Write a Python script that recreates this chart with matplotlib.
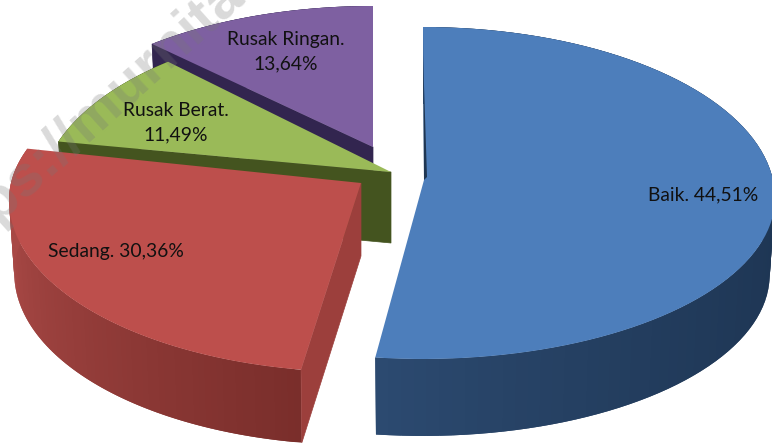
import numpy as np
import matplotlib
matplotlib.use("Agg")
import matplotlib.pyplot as plt
from matplotlib.colors import to_rgb

# slices as they are drawn (share of the full turn),
# the printed percentages do not match the drawn sizes in the original
categories = ["Baik.", "Sedang.", "Rusak Berat.", "Rusak Ringan."]
drawn_share = [52.36, 27.84, 8.89, 10.91]
printed_pct = ["44,51%", "30,36%", "11,49%", "13,64%"]

top_colors = ["#4d7ebb", "#bd4f4c", "#9aba58", "#7e60a1"]
wall_colors = ["#1f3652", "#9c3f3c", "#44541f", "#32254f"]
# rim colours at start and end of the slice
rim_colors = [("#1c3350", "#2c4a70"), ("#7a2e2b", "#a84845"),
              ("#44541f", "#44541f"), ("#32254f", "#32254f")]

# cx, cy, rx, ry up, ry down, apex x, apex y, thickness
shape = [
    (423, 198, 352, 171, 161, 424, 180, 77),
    (358, 200, 349, 160, 172, 361, 183, 73),
    (389, 198, 349, 176, 170, 391, 172, 71),
    (373, 174, 349, 168, 170, 373, 147, 70),
]
# small trim at start / end of each slice, degrees
trim = [(0, -0.7), (0.9, 0), (0, 0), (0, 0)]
squeeze = 0.985  # bottom rim is a bit narrower (perspective)

fig = plt.figure(figsize=(7.72, 4.45), dpi=100)
ax = fig.add_axes([0, 0, 1, 1])
ax.set_xlim(0, 772)
ax.set_ylim(445, 0)
ax.axis("off")


def rim(t, cx, cy, rx, up, down):
    c = np.cos(t)
    return cx + rx * np.sin(t), cy - np.where(c > 0, up, down) * c


edges = np.radians(np.concatenate([[0], np.cumsum(drawn_share)]) / sum(drawn_share) * 360)

# back slices first, so draw order goes purple -> blue
for i in [3, 2, 1, 0]:
    cx, cy, rx, up, down, ax_x, ax_y, thick = shape[i]
    t = np.linspace(edges[i] + np.radians(trim[i][0]), edges[i + 1] + np.radians(trim[i][1]), 90)
    x, y = rim(t, cx, cy, rx, up, down)
    xb = cx + (x - cx) * squeeze
    yb = y + thick
    z = i * -10

    # outer wall, shaded in steps (each step overlaps the next so no seams show)
    c0, c1 = np.array(to_rgb(rim_colors[i][0])), np.array(to_rgb(rim_colors[i][1]))
    for k in range(len(t) - 1):
        f = k / (len(t) - 2)
        if i == 1:
            col = c0 + (c1 - c0) * min(f * 1.3, 1)
        else:
            col = c0 + (c1 - c0) * f ** 3
        e = min(k + 2, len(t) - 1)
        ax.fill([x[k], x[e], xb[e], xb[k]], [y[k], y[e], yb[e], yb[k]], color=col, lw=0, zorder=z + 1)

    # cut wall facing the viewer
    if i > 0:
        wall_x = [ax_x, x[0], xb[0], ax_x]
        wall_y = [ax_y, y[0], yb[0], ax_y + thick]
        ax.fill(wall_x, wall_y, color=wall_colors[i], lw=0.5, zorder=z + 2)

    # top face
    ax.fill(np.r_[ax_x, x], np.r_[ax_y, y], color=top_colors[i], lw=0, zorder=z + 3)

    if i == 0:
        # thin dark sliver on the back edge of the big slice
        ax.fill([x[0], ax_x + 3, ax_x], [y[0] + 28, ax_y - 3, ax_y], color=wall_colors[i], lw=0, zorder=z + 4)

# labels
label_font = ["Lato", "DejaVu Sans"]
ax.text(703, 195, f"{categories[0]} {printed_pct[0]}", ha="center", va="center",
        fontsize=13.9, family=label_font, color="#111111", zorder=5)
ax.text(116, 252, f"{categories[1]} {printed_pct[1]}", ha="center", va="center",
        fontsize=13.9, family=label_font, color="#111111", zorder=5)
ax.text(176, 123, f"{categories[2]}\n{printed_pct[2]}", ha="center", va="center",
        fontsize=13.9, family=label_font, color="#111111", linespacing=1.55, zorder=5)
ax.text(286, 52, f"{categories[3]}\n{printed_pct[3]}", ha="center", va="center",
        fontsize=13.9, family=label_font, color="#111111", linespacing=1.55, zorder=5)

# faint watermark running off the top left
ax.text(-58, 272, "https://murnita", rotation=42, rotation_mode="anchor", ha="left", va="baseline",
        fontsize=42, fontweight="bold", family=["Liberation Sans", "DejaVu Sans"],
        color="#777777", alpha=0.27, zorder=4, clip_on=True)

fig.savefig("out.png", dpi=100, facecolor="white")
